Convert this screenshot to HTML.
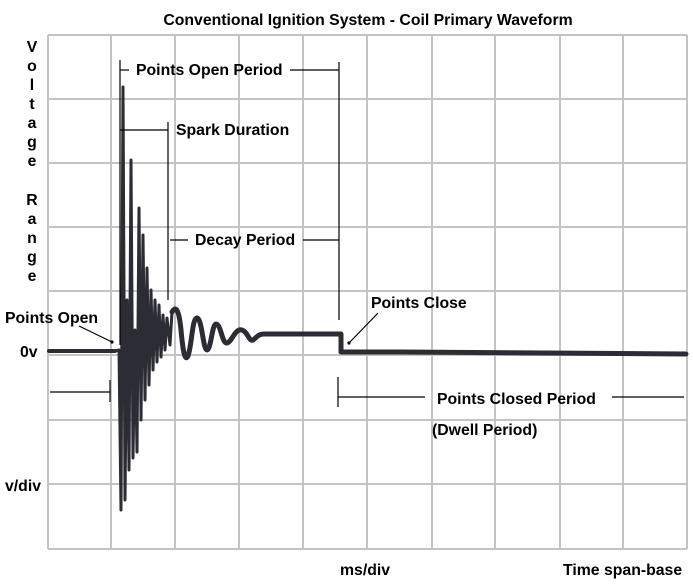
<!DOCTYPE html>
<html><head><style>
html,body{margin:0;padding:0;background:#fff}
svg{display:block}
text{font-family:"Liberation Sans",Arial,sans-serif;font-weight:bold;font-size:15.8px;fill:#000}
</style></head><body>
<svg width="693" height="588" viewBox="0 0 693 588" xmlns="http://www.w3.org/2000/svg">
<rect width="693" height="588" fill="#fff"/>
<g stroke="#c4c4c4" stroke-width="2" fill="none">
<line x1="48" y1="35" x2="48" y2="549"/><line x1="111" y1="35" x2="111" y2="549"/><line x1="175" y1="35" x2="175" y2="549"/><line x1="239" y1="35" x2="239" y2="549"/><line x1="303" y1="35" x2="303" y2="549"/><line x1="367" y1="35" x2="367" y2="549"/><line x1="432" y1="35" x2="432" y2="549"/><line x1="495" y1="35" x2="495" y2="549"/><line x1="560" y1="35" x2="560" y2="549"/><line x1="623" y1="35" x2="623" y2="549"/><line x1="687" y1="35" x2="687" y2="549"/>
<line x1="48" y1="35" x2="687" y2="35"/><line x1="48" y1="99" x2="687" y2="99"/><line x1="48" y1="163" x2="687" y2="163"/><line x1="48" y1="227" x2="687" y2="227"/><line x1="48" y1="291" x2="687" y2="291"/><line x1="48" y1="355" x2="687" y2="355"/><line x1="48" y1="420" x2="687" y2="420"/><line x1="48" y1="484" x2="687" y2="484"/><line x1="48" y1="549" x2="687" y2="549"/>
</g>
<g stroke="#2c2c34" fill="none" stroke-linejoin="round" stroke-linecap="round">
<polyline stroke-width="4" points="49,351 115,351"/>
<polyline stroke-width="3" points="115,351 119,350 121,510 123,87 125,500 127,300 129,470 131,160 133,458 135,330 137,452 139,208 141,420 143,235 145,400 147,268 149,385 151,290 153,370 155,300 157,362 159,305 161,357 163,315 165,350 167,318 170,345 172,312"/>
<path stroke-width="5" d="M172,312 C176,305 179,310 181,330 C183,352 185,362 188,356 C192,345 192,318 197,318 C202,318 203,350 207,350 C211,350 212,324 216,324 C221,324 222,344 227,343 C232,342 235,328 242,330 C248,332 249,342 253,340 C256,338 258,334 264,334 L341,334 L341,352 L400,352 L686,354"/>
</g>
<g stroke="#000" stroke-width="1.2" fill="none">
<line x1="120" y1="60" x2="120" y2="345"/>
<line x1="120" y1="70" x2="129" y2="70"/>
<line x1="290" y1="70" x2="339" y2="70"/>
<line x1="339" y1="62" x2="339" y2="320"/>
<line x1="120" y1="130" x2="168" y2="130"/>
<line x1="168" y1="122" x2="168" y2="300"/>
<line x1="170" y1="240" x2="188" y2="240"/>
<line x1="303" y1="240" x2="339" y2="240"/>
<line x1="79" y1="326" x2="112" y2="342"/>
<line x1="378" y1="313" x2="350" y2="342"/>
<line x1="50" y1="392" x2="110" y2="392"/>
<line x1="110" y1="380" x2="110" y2="402"/>
<line x1="338" y1="377" x2="338" y2="407"/>
<line x1="338" y1="397" x2="425" y2="397"/>
<line x1="612" y1="397" x2="684" y2="397"/>
</g>
<circle cx="112" cy="342" r="1.6" fill="#000"/>
<circle cx="349" cy="343" r="1.6" fill="#000"/>
<text x="368" y="25" text-anchor="middle">Conventional Ignition System - Coil Primary Waveform</text>
<text x="136" y="75">Points Open Period</text>
<text x="176" y="135">Spark Duration</text>
<text x="195" y="245">Decay Period</text>
<text x="5" y="323">Points Open</text>
<text x="371" y="308">Points Close</text>
<text x="20" y="357">0v</text>
<text x="5" y="491">v/div</text>
<text x="437" y="404">Points Closed Period</text>
<text x="432" y="435">(Dwell Period)</text>
<text x="340" y="575">ms/div</text>
<text x="563" y="575">Time span-base</text>
<g text-anchor="middle">
<text x="32" y="52">V</text><text x="32" y="71">o</text><text x="32" y="90">l</text><text x="32" y="109">t</text><text x="32" y="128">a</text><text x="32" y="147">g</text><text x="32" y="166">e</text>
<text x="32" y="205">R</text><text x="32" y="224">a</text><text x="32" y="243">n</text><text x="32" y="262">g</text><text x="32" y="281">e</text>
</g>
</svg>
</body></html>
